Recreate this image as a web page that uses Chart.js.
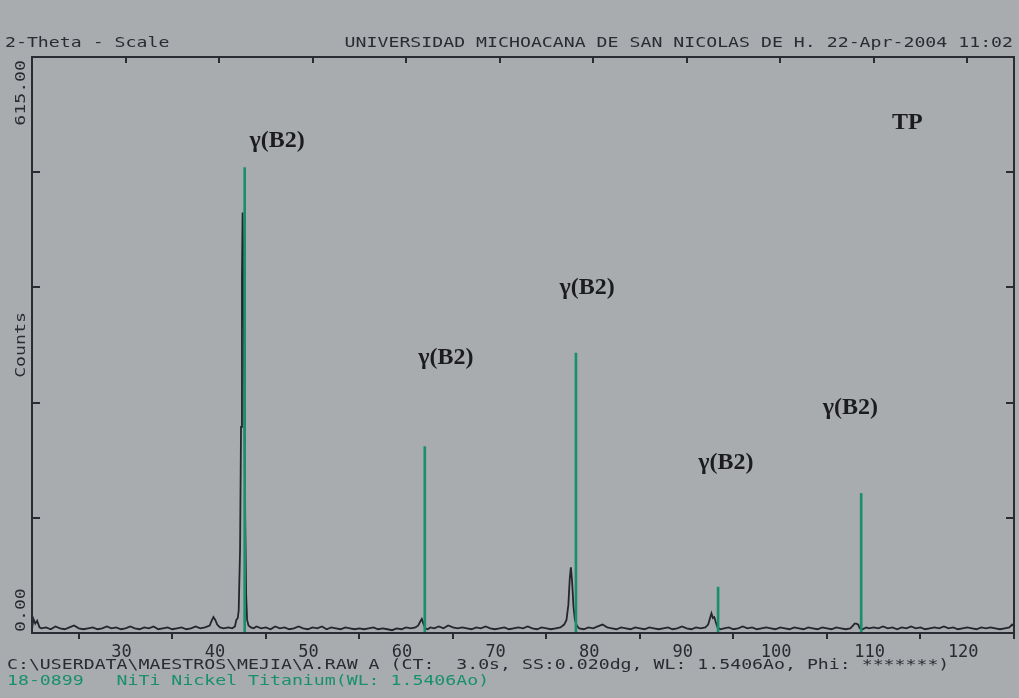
<!DOCTYPE html>
<html lang="es">
<head>
<meta charset="UTF-8">
<title>2-Theta - Scale</title>
<script src="https://cdn.jsdelivr.net/npm/chart.js"></script>
<style>
  html, body { margin: 0; padding: 0; background: #a9acae; }
  .wrap { width: 1019px; height: 698px; position: relative; }
</style>
</head>
<body>
<div class="wrap"><canvas id="xrd"></canvas></div>
<script>
// measured scan (2-theta in degrees, counts)
const twoTheta = [
  20.0, 20.15, 20.35, 20.55, 20.8, 21.0, 21.5, 22, 22.5, 23,
  23.5, 24, 24.5, 25, 25.5, 26, 26.5, 27, 27.5, 28,
  28.5, 29, 29.5, 30, 30.5, 31, 31.5, 32, 32.5, 33,
  33.5, 34, 34.5, 35, 35.5, 36, 36.5, 37, 37.5, 38,
  38.5, 39, 39.2, 39.4, 39.6, 39.8, 40.1, 40.5, 41, 41.4,
  41.7, 41.85, 42.0, 42.1, 42.25, 42.35, 42.45, 42.52, 42.6, 42.7,
  42.8, 42.9, 43.0, 43.15, 43.4, 43.7, 44, 44.5, 45, 45.5,
  46, 46.5, 47, 47.5, 48, 48.5, 49, 49.5, 50, 50.5,
  51, 51.5, 52, 52.5, 53, 53.5, 54, 54.5, 55, 55.5,
  56, 56.5, 57, 57.5, 58, 58.5, 59, 59.5, 60, 60.5,
  61, 61.3, 61.5, 61.68, 61.85, 62.05, 62.3, 62.6, 63, 63.5,
  64, 64.5, 65, 65.5, 66, 66.5, 67, 67.5, 68, 68.5,
  69, 69.5, 70, 70.5, 71, 71.5, 72, 72.5, 73, 73.5,
  74, 74.5, 75, 75.5, 76, 76.5, 76.9, 77.15, 77.35, 77.5,
  77.62, 77.75, 77.9, 78.05, 78.25, 78.5, 79, 79.5, 80, 80.5,
  81, 81.5, 82, 82.5, 83, 83.5, 84, 84.5, 85, 85.5,
  86, 86.5, 87, 87.5, 88, 88.5, 89, 89.5, 90, 90.5,
  91, 91.5, 92, 92.3, 92.5, 92.65, 92.8, 92.95, 93.1, 93.3,
  93.6, 94, 94.5, 95, 95.5, 96, 96.5, 97, 97.5, 98,
  98.5, 99, 99.5, 100, 100.5, 101, 101.5, 102, 102.5, 103,
  103.5, 104, 104.5, 105, 105.5, 106, 106.5, 107, 107.5, 107.8,
  107.95, 108.15, 108.35, 108.5, 108.8, 109.2, 109.5, 110, 110.5, 111,
  111.5, 112, 112.5, 113, 113.5, 114, 114.5, 115, 115.5, 116,
  116.5, 117, 117.5, 118, 118.5, 119, 119.5, 120, 120.5, 121,
  121.5, 122, 122.5, 123, 123.5, 124, 124.5, 124.8, 125
];
const counts = [
  4, 15, 10, 13, 6, 5, 6, 4, 7, 5,
  4, 6, 8, 5, 4, 5, 6, 4, 5, 7,
  5, 6, 4, 5, 7, 5, 4, 6, 5, 7,
  4, 5, 6, 4, 5, 6, 4, 5, 7, 5,
  6, 8, 13, 17, 14, 9, 6, 5, 6, 5,
  7, 14, 16, 24, 90, 220, 380, 449, 400, 260,
  120, 40, 14, 8, 6, 5, 7, 5, 6, 4,
  7, 5, 6, 4, 5, 7, 5, 4, 6, 5,
  7, 4, 6, 5, 4, 6, 5, 4, 5, 4,
  5, 6, 4, 5, 4, 3, 5, 4, 6, 5,
  6, 8, 12, 15, 10, 5, 4, 6, 5, 7,
  5, 8, 6, 5, 6, 5, 4, 6, 5, 7,
  5, 4, 5, 6, 4, 5, 6, 5, 7, 5,
  4, 6, 5, 4, 5, 6, 9, 14, 30, 58,
  70, 55, 28, 14, 8, 5, 4, 6, 5, 7,
  9, 6, 5, 4, 6, 5, 4, 6, 5, 4,
  6, 5, 4, 5, 6, 4, 5, 7, 5, 4,
  6, 5, 6, 9, 16, 21, 16, 17, 12, 6,
  4, 5, 6, 4, 5, 7, 5, 6, 4, 5,
  6, 5, 4, 6, 5, 4, 6, 5, 4, 6,
  5, 4, 6, 5, 4, 6, 5, 4, 5, 8,
  10, 10, 9, 5, 4, 6, 5, 6, 5, 7,
  5, 6, 4, 6, 5, 7, 5, 6, 4, 5,
  6, 5, 7, 5, 6, 4, 5, 6, 5, 4,
  6, 5, 6, 5, 4, 5, 6, 9, 7
];

// reference pattern 18-0899 NiTi (stick lines)
const stickTheta = [42.74, 62.0, 78.16, 93.36, 108.66];
const stickCounts = [497, 199, 299, 49, 149];

const xTickValues = [30, 40, 50, 60, 70, 80, 90, 100, 110, 120];
const yTickValues = [0, 123, 246, 369, 492, 615];

// peak labels, anchored in data units (2-theta, counts)
const labelText = ['γ(B2)', 'γ(B2)', 'γ(B2)', 'γ(B2)', 'γ(B2)', 'TP'];
const labelTheta = [46.2, 64.25, 79.35, 94.2, 107.5, 113.6];
const labelCounts = [526, 294, 369, 182, 240, 545];

const INK = '#2a2b33';
const GREEN = '#17906b';
const MONO = '"DejaVu Sans Mono", "Liberation Mono", monospace';

// plotter style text: monospace stretched wide
function plotText(ctx, str, x, y, color, align, rot) {
  ctx.save();
  ctx.translate(x, y);
  if (rot) ctx.rotate(rot);
  ctx.scale(1.3, 1);
  ctx.font = '14px ' + MONO;
  ctx.fillStyle = color;
  ctx.textAlign = align || 'left';
  ctx.textBaseline = 'middle';
  ctx.fillText(str, 0, 0);
  ctx.restore();
}

const decor = {
  id: 'decor',
  beforeDraw(chart) {
    const ctx = chart.ctx;
    ctx.save();
    ctx.fillStyle = '#a9acae';
    ctx.fillRect(0, 0, chart.width, chart.height);
    ctx.restore();
  },
  afterDraw(chart) {
    const ctx = chart.ctx;
    const a = chart.chartArea;
    const xs = chart.scales.x, ys = chart.scales.y;

    // frame
    ctx.save();
    ctx.strokeStyle = INK;
    ctx.lineWidth = 2;
    ctx.strokeRect(a.left, a.top, a.right - a.left, a.bottom - a.top);
    ctx.beginPath();
    xTickValues.forEach(v => {
      const px = Math.round(xs.getPixelForValue(v));
      ctx.moveTo(px, a.top);
      ctx.lineTo(px, a.top + 6);
    });
    yTickValues.slice(1, -1).forEach(v => {
      const py = Math.round(ys.getPixelForValue(v));
      ctx.moveTo(a.left, py);
      ctx.lineTo(a.left + 8, py);
      ctx.moveTo(a.right, py);
      ctx.lineTo(a.right - 8, py);
    });
    ctx.stroke();
    ctx.restore();

    // header
    plotText(ctx, '2-Theta - Scale', 5, 43, INK);
    plotText(ctx, 'UNIVERSIDAD MICHOACANA DE SAN NICOLAS DE H. 22-Apr-2004 11:02', 1013, 43, INK, 'right');

    // y axis labels (rotated)
    const rot = -Math.PI / 2;
    plotText(ctx, '615.00', 21, ys.getPixelForValue(615) + 3, INK, 'right', rot);
    plotText(ctx, '0.00', 21, ys.getPixelForValue(0) - 1, INK, 'left', rot);
    plotText(ctx, 'Counts', 21, (a.top + a.bottom) / 2, INK, 'center', rot);

    // footer
    plotText(ctx, 'C:\\USERDATA\\MAESTROS\\MEJIA\\A.RAW A (CT:  3.0s, SS:0.020dg, WL: 1.5406Ao, Phi: *******)', 7, 665, INK);
    plotText(ctx, '18-0899   NiTi Nickel Titanium(WL: 1.5406Ao)', 7, 681, GREEN);

    // peak labels
    ctx.save();
    ctx.font = 'bold 24px "Liberation Serif", "Times New Roman", serif';
    ctx.fillStyle = '#1c1c20';
    ctx.textAlign = 'center';
    ctx.textBaseline = 'middle';
    labelText.forEach((t, i) => {
      ctx.fillText(t, xs.getPixelForValue(labelTheta[i]), ys.getPixelForValue(labelCounts[i]));
    });
    ctx.restore();
  }
};

new Chart(document.getElementById('xrd'), {
  data: {
    datasets: [
      {
        type: 'bar',
        label: '18-0899 NiTi',
        data: stickTheta.map((t, i) => ({ x: t, y: stickCounts[i] })),
        backgroundColor: GREEN,
        borderWidth: 0,
        barThickness: 2,
        order: 0
      },
      {
        type: 'line',
        label: 'A.RAW',
        data: twoTheta.map((t, i) => ({ x: t, y: counts[i] })),
        borderColor: '#25252e',
        borderWidth: 1.8,
        pointRadius: 0,
        tension: 0,
        fill: false,
        order: 1
      }
    ]
  },
  options: {
    responsive: true,
    maintainAspectRatio: false,
    animation: false,
    layout: { padding: { left: 32, right: 5, top: 57, bottom: 35 } },
    plugins: { legend: { display: false }, tooltip: { enabled: false } },
    scales: {
      x: {
        type: 'linear',
        position: 'bottom',
        min: 20,
        max: 125,
        offset: false,
        afterBuildTicks: s => { s.ticks = xTickValues.map(v => ({ value: v })); },
        afterFit: s => { s.height = 30; },
        grid: { display: true, drawOnChartArea: false, drawTicks: true, tickLength: 6, color: INK, lineWidth: 2 },
        border: { display: true, color: INK, width: 2 },
        ticks: {
          autoSkip: false,
          maxRotation: 0,
          padding: 3,
          labelOffset: -4,
          color: INK,
          font: { family: MONO, size: 17 }
        }
      },
      y: {
        type: 'linear',
        display: false,
        min: 0,
        max: 615
      }
    }
  },
  plugins: [decor]
});
</script>
</body>
</html>
